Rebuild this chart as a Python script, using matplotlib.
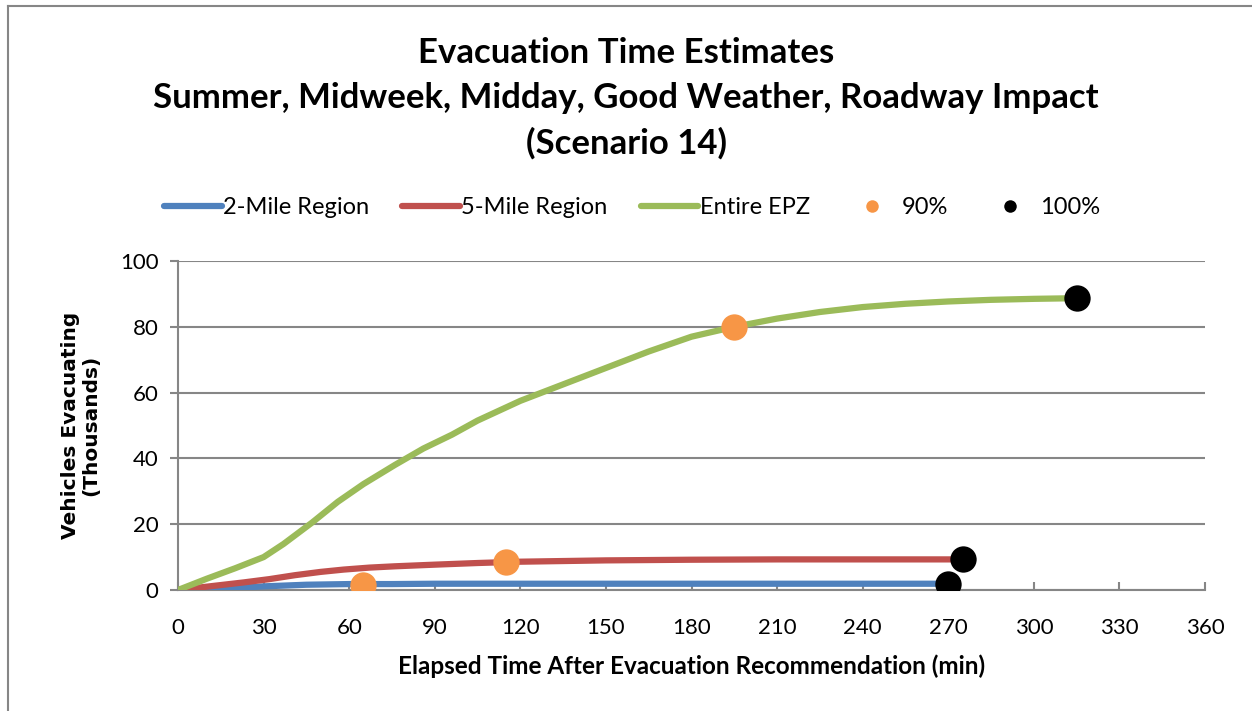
import matplotlib.pyplot as plt
from matplotlib.lines import Line2D

plt.rcParams['font.family'] = ['Lato', 'DejaVu Sans']

# elapsed time (min) and vehicles evacuating (thousands)
t_2mile = [0, 15, 30, 45, 60, 75, 90, 120, 150, 180, 210, 240, 270]
v_2mile = [0, 0.4, 1.1, 1.6, 1.8, 1.8, 1.9, 1.9, 1.9, 1.9, 1.9, 1.9, 1.9]

t_5mile = [0, 12, 23, 32, 41, 50, 58, 67, 76, 90, 105, 120, 150, 180, 210, 240, 275]
v_5mile = [0, 1.2, 2.3, 3.3, 4.5, 5.5, 6.2, 6.8, 7.2, 7.7, 8.2, 8.6, 9.0, 9.2, 9.3, 9.3, 9.3]

t_epz = [0, 10, 20, 30, 37, 47, 56, 65, 76, 86, 96, 105, 120, 135, 150,
         165, 180, 195, 210, 225, 240, 255, 270, 285, 300, 315]
v_epz = [0, 3.4, 6.6, 10, 14, 20.5, 26.8, 32.2, 38, 43, 47.2, 51.5, 57.5, 62.5,
         67.5, 72.5, 77, 80, 82.5, 84.5, 86, 87, 87.7, 88.2, 88.5, 88.7]

t_90 = [65, 115, 195]
v_90 = [1.5, 8.4, 80]
t_100 = [270, 275, 315]
v_100 = [1.7, 9.3, 88.7]

xticks = list(range(0, 361, 30))
yticks = list(range(0, 101, 20))

fig = plt.figure(figsize=(12.52, 7.11), dpi=100)
border = '#868686'
fig.add_artist(Line2D([0.0064, 1.0], [0.9916, 0.9916], transform=fig.transFigure,
                      color=border, lw=1.5))
fig.add_artist(Line2D([0.0064, 0.0064], [0.0, 0.9916], transform=fig.transFigure,
                      color=border, lw=1.5))
ax = fig.add_axes([0.1422, 0.1702, 0.8203, 0.4627])

grid_c = '#868686'
ax.plot(t_2mile, v_2mile, color='#4F81BD', lw=4.5, solid_capstyle='round',
        solid_joinstyle='round', zorder=3)
ax.plot(t_5mile, v_5mile, color='#C0504D', lw=4.5, solid_capstyle='round',
        solid_joinstyle='round', zorder=3)
ax.plot(t_epz, v_epz, color='#9BBB59', lw=4.5, solid_capstyle='round',
        solid_joinstyle='round', zorder=3)
ax.scatter(t_90, v_90, s=360, color='#F79646', zorder=4, linewidths=0)
ax.scatter(t_100, v_100, s=360, color='black', zorder=4, linewidths=0)

ax.set_xlim(0, 360)
ax.set_ylim(0, 100)
ax.set_xticks(xticks)
ax.set_yticks(yticks)
ax.grid(axis='y', color=grid_c, lw=1.5)
ax.set_axisbelow(True)
for s in ['top', 'right']:
    ax.spines[s].set_visible(False)
for s in ['left', 'bottom']:
    ax.spines[s].set_color(grid_c)
    ax.spines[s].set_linewidth(1.5)
ax.tick_params(axis='x', direction='in', length=6, color=grid_c, width=1.5,
               labelsize=16, pad=20)
ax.tick_params(axis='y', direction='out', length=6, color=grid_c, width=1.5,
               labelsize=16, pad=8)

ax.set_xlabel('Elapsed Time After Evacuation Recommendation (min)', fontsize=17.5,
              fontweight='bold', labelpad=12)
ax.set_ylabel('Vehicles Evacuating\n(Thousands)', fontsize=14.5, fontweight='bold',
              family='DejaVu Sans', labelpad=14, linespacing=1.1)

fig.text(0.5, 0.948, 'Evacuation Time Estimates\nSummer, Midweek, Midday, Good Weather, Roadway Impact\n(Scenario 14)',
         ha='center', va='top', fontsize=25, fontweight='bold', linespacing=1.5)

handles = [
    Line2D([], [], color='#4F81BD', lw=4.5, solid_capstyle='round'),
    Line2D([], [], color='#C0504D', lw=4.5, solid_capstyle='round'),
    Line2D([], [], color='#9BBB59', lw=4.5, solid_capstyle='round'),
    Line2D([], [], color='#F79646', marker='o', ls='', markersize=9, markeredgewidth=0),
    Line2D([], [], color='black', marker='o', ls='', markersize=9, markeredgewidth=0),
]
labels = ['2-Mile Region', '5-Mile Region', 'Entire EPZ', '90%', '100%']
fig.legend(handles, labels, loc='center', bbox_to_anchor=(0.505, 0.708), ncol=5,
           frameon=False, fontsize=17, handlelength=2.45, handletextpad=0.05,
           columnspacing=1.4)

fig.savefig('out.png', dpi=100)
